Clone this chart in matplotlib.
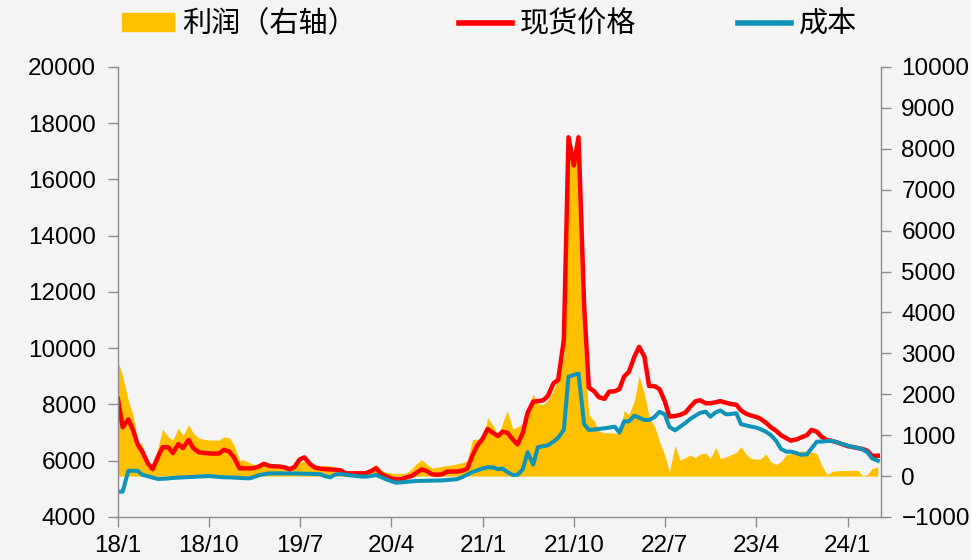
import matplotlib
matplotlib.use('Agg')
import matplotlib.pyplot as plt
import matplotlib.patches as mpatches
from matplotlib.lines import Line2D
import pandas as pd

plt.rcParams['font.family'] = ['Liberation Sans', 'Noto Sans CJK SC', 'DejaVu Sans']

# 半月频率数据：2018-01 至 2024-04
dates = pd.date_range('2018-01-01', '2024-04-01', freq='SMS')

# 现货价格（左轴）
spot_price = [
    8200, 7190, 7470, 7100, 6580, 6320, 5900, 5700, 6140, 6480,
    6480, 6270, 6590, 6450, 6740, 6450, 6300, 6280, 6265, 6250,
    6260, 6390, 6330, 6120, 5731, 5730, 5730, 5740, 5800, 5890,
    5815, 5800, 5795, 5770, 5695, 5780, 6050, 6120, 5880, 5760,
    5720, 5700, 5690, 5680, 5660, 5553, 5553, 5553, 5553, 5553,
    5640, 5731, 5540, 5450, 5370, 5350, 5350, 5400, 5460, 5570,
    5690, 5640, 5520, 5500, 5520, 5612, 5612, 5615, 5650, 5720,
    6200, 6540, 6800, 7130, 6980, 6880, 7030, 7000, 6750, 6580,
    7000, 7700, 8100, 8120, 8150, 8300, 8754, 8880, 10300, 17500,
    16500, 17500, 11500, 8600, 8470, 8260, 8200, 8456, 8470, 8550,
    9000, 9150, 9700, 10050, 9700, 8660, 8650, 8550, 8120, 7570,
    7590, 7627, 7710, 7910, 8110, 8150, 8043, 8043, 8080, 8120,
    8060, 8020, 7990, 7790, 7680, 7615, 7560, 7490, 7350, 7200,
    7060, 6910, 6800, 6715, 6760, 6830, 6910, 7100, 7030, 6850,
    6730, 6705, 6650, 6590, 6520, 6490, 6455, 6420, 6350, 6170,
    6180,
]

# 成本（左轴）
cost = [
    4900, 4900, 5640, 5646, 5640, 5500, 5450, 5400, 5350, 5360,
    5370, 5390, 5400, 5410, 5420, 5430, 5440, 5450, 5455, 5440,
    5420, 5410, 5410, 5400, 5390, 5380, 5375, 5430, 5490, 5520,
    5550, 5553, 5553, 5553, 5550, 5550, 5545, 5540, 5535, 5530,
    5520, 5450, 5410, 5510, 5530, 5500, 5480, 5460, 5440, 5434,
    5460, 5493, 5420, 5345, 5270, 5220, 5230, 5250, 5265, 5280,
    5285, 5290, 5293, 5297, 5300, 5315, 5330, 5345, 5420, 5510,
    5600, 5660, 5725, 5770, 5760, 5700, 5720, 5600, 5493, 5500,
    5700, 6300, 5860, 6480, 6520, 6550, 6680, 6820, 7100, 8990,
    9050, 9100, 7300, 7094, 7110, 7130, 7153, 7180, 7210, 7000,
    7400, 7400, 7600, 7530, 7450, 7450, 7560, 7740, 7650, 7200,
    7080, 7200, 7340, 7480, 7600, 7700, 7745, 7567, 7720, 7790,
    7650, 7660, 7690, 7300, 7260, 7220, 7180, 7120, 7030, 6920,
    6700, 6420, 6323, 6323, 6270, 6210, 6230, 6443, 6680, 6680,
    6700, 6710, 6650, 6600, 6540, 6490, 6455, 6400, 6300, 6080,
    6000,
]

# 利润（右轴）
profit = [
    2800, 2450, 1850, 1500, 870, 750, 330, 200, 700, 1150,
    961, 880, 1170, 990, 1250, 1050, 930, 900, 880, 880,
    880, 960, 940, 760, 391, 391, 320, 280, 270, 260,
    230, 200, 190, 188, 188, 250, 340, 360, 230, 230,
    240, 260, 250, 120, 105, 105, 105, 110, 105, 105,
    200, 290, 150, 95, 70, 65, 65, 65, 180, 300,
    400, 300, 190, 215, 235, 255, 275, 300, 330, 380,
    900, 900, 880, 1430, 1230, 990, 1300, 1600, 1150, 1200,
    1280, 1650, 2000, 1770, 1750, 1850, 2100, 2350, 2900, 8000,
    7600, 8400, 3000, 1500, 1350, 1100, 1058, 1058, 1050, 1040,
    1600, 1500, 1850, 2450, 2000, 1450, 1200, 850, 520, 100,
    750, 391, 450, 513, 450, 540, 560, 433, 700, 433,
    465, 520, 580, 720, 550, 440, 410, 420, 540, 350,
    280, 360, 520, 545, 580, 615, 605, 590, 550, 260,
    30, 110, 130, 135, 140, 140, 140, 10, 40, 190,
    220,
]

tick_dates = ['2018-01-01', '2018-10-01', '2019-07-01', '2020-04-01', '2021-01-01',
              '2021-10-01', '2022-07-01', '2023-04-01', '2024-01-01']
tick_labels = ['18/1', '18/10', '19/7', '20/4', '21/1', '21/10', '22/7', '23/4', '24/1']

bg = '#F4F4F4'
c_profit = '#FFC000'
c_spot = '#FF0000'
c_cost = '#0F93B9'
c_spine = '#8C8C8C'

fig = plt.figure(figsize=(9.71, 5.6), dpi=100, facecolor=bg)
ax = fig.add_axes([0.1215, 0.0768, 0.7853, 0.8036])
ax2 = ax.twinx()

# 利润面积图放在右轴，并放到折线下面
ax2.fill_between(dates, 0, profit, color=c_profit, linewidth=0)
ax2.set_facecolor(bg)
ax.set_zorder(ax2.get_zorder() + 1)
ax.patch.set_visible(False)

ax.plot(dates, spot_price, color=c_spot, linewidth=3.2)
ax.plot(dates, cost, color=c_cost, linewidth=2.9)

ax.set_ylim(4000, 20000)
ax.set_yticks(range(4000, 20001, 2000))
ax2.set_ylim(-1000, 10000)
ax2.set_yticks(range(-1000, 10001, 1000))
ax2.set_yticklabels([str(v).replace('-', '\u2212') for v in range(-1000, 10001, 1000)])

ax.set_xlim(pd.Timestamp('2018-01-01'), pd.Timestamp('2024-04-09'))
ax.set_xticks(pd.to_datetime(tick_dates))
ax.set_xticklabels(tick_labels)

for a in (ax, ax2):
    a.spines['top'].set_visible(False)
    for s in ('left', 'right', 'bottom'):
        a.spines[s].set_color(c_spine)
        a.spines[s].set_linewidth(1.0)
ax.spines['right'].set_visible(False)
ax2.spines['left'].set_visible(False)
ax2.spines['bottom'].set_visible(False)

ax.tick_params(axis='y', direction='out', length=7, width=1, color=c_spine,
               labelsize=17.5, pad=9)
ax.tick_params(axis='x', direction='out', length=7, width=1, color=c_spine,
               labelsize=17.5, pad=6)
ax2.tick_params(axis='y', direction='out', length=7, width=1, color=c_spine,
                labelsize=17.5, pad=8)

handles = [
    mpatches.Patch(color=c_profit),
    Line2D([], [], color=c_spot, linewidth=4),
    Line2D([], [], color=c_cost, linewidth=4),
]
labels = ['利润（右轴）', '现货价格', '成本']
fig.legend(handles, labels, loc='upper center', bbox_to_anchor=(0.504, 1.03),
           ncol=3, frameon=False, handlelength=1.8, handleheight=0.55,
           handletextpad=0.27, columnspacing=3.5,
           prop={'family': ['Noto Sans CJK SC', 'DejaVu Sans'], 'size': 21})

fig.savefig('out.png', dpi=100, facecolor=bg)
